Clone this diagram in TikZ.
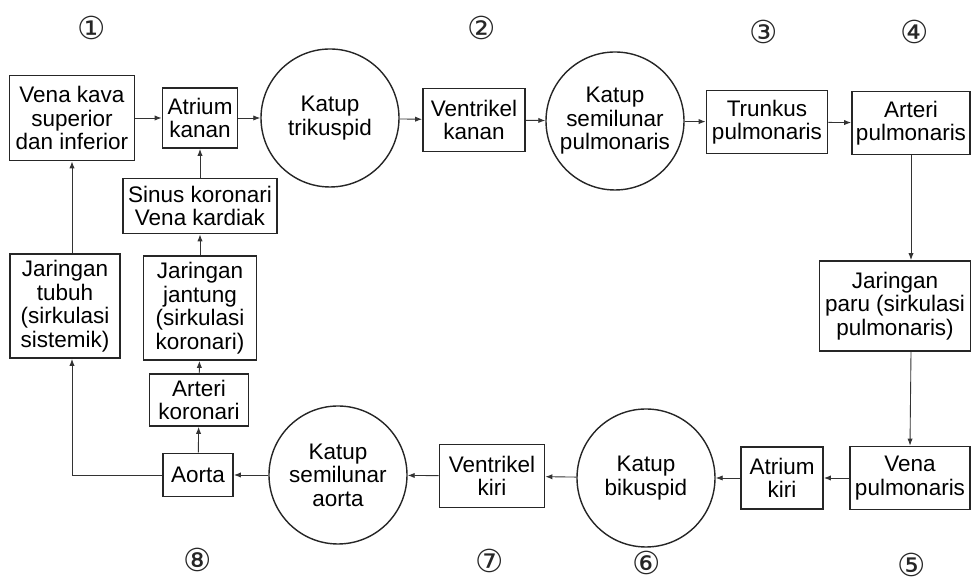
\documentclass[tikz,border=0pt]{standalone}
\usepackage{fontspec}
\setmainfont{Liberation Sans}
\newfontfamily\numfont{DejaVu Sans}
\usetikzlibrary{arrows.meta, shapes, positioning}
\tikzset{
  organ/.style = {draw=black!85, line width=1pt, align=center, inner sep=1.5pt,
    font=\fontsize{12.8}{13.4}\selectfont},
  valve/.style = {draw=black!85, line width=0.8pt, circle, minimum size=2.76cm,
    inner sep=0pt, align=center, font=\fontsize{12.8}{13.4}\selectfont},
  flow/.style = {draw=black!80, line width=0.5pt, -{Latex[length=4pt, width=3pt]}},
  stage/.style = {font=\numfont\fontsize{18}{18}\selectfont, inner sep=0pt, text=black!85}
}

\begin{document}
\begin{tikzpicture}

  \useasboundingbox (0,0) rectangle (19.42,11.70);

  %% Peredaran darah

  % Top row
  \node[organ, minimum width=2.5cm, minimum height=1.7cm] (vk) at (1.44,9.34) {Vena kava\\superior\\dan inferior};
  \node[organ, minimum width=1.5cm, minimum height=1.2cm] (ak) at (4.00,9.34) {Atrium\\kanan};
  \node[valve] (tri) at (6.60,9.34) {Katup\\trikuspid};
  \node[organ, minimum width=2.04cm, minimum height=1.26cm] (vka) at (9.48,9.30) {Ventrikel\\kanan};
  \node[valve] (spul) at (12.30,9.28) {Katup\\semilunar\\pulmonaris};
  \node[organ, minimum width=2.42cm, minimum height=1.26cm] (tp) at (15.34,9.26) {Trunkus\\pulmonaris};
  \node[organ, minimum width=2.36cm, minimum height=1.26cm] (ap) at (18.22,9.24) {Arteri\\pulmonaris};

  % Right column
  \node[organ, minimum width=3.02cm, minimum height=1.8cm] (jp) at (17.90,5.58) {Jaringan\\paru (sirkulasi\\pulmonaris)};

  % Bottom row
  \node[organ, minimum width=2.4cm, minimum height=1.26cm] (vp) at (18.20,2.14) {Vena\\pulmonaris};
  \node[organ, minimum width=1.64cm, minimum height=1.24cm] (aki) at (15.64,2.14) {Atrium\\kiri};
  \node[valve] (bik) at (12.92,2.14) {Katup\\bikuspid};
  \node[organ, minimum width=2.1cm, minimum height=1.26cm] (vki) at (9.84,2.18) {Ventrikel\\kiri};
  \node[valve] (sao) at (6.76,2.20) {Katup\\semilunar\\aorta};
  \node[organ, minimum width=1.4cm, minimum height=0.86cm] (ao) at (3.96,2.20) {Aorta};

  % Left columns
  \node[organ, minimum width=1.98cm, minimum height=1.04cm] (ako) at (3.98,3.70) {Arteri\\koronari};
  \node[organ, minimum width=2.26cm, minimum height=2.08cm] (jj) at (4.00,5.54) {Jaringan\\jantung\\(sirkulasi\\koronari)};
  \node[organ, minimum width=3.08cm, minimum height=1.1cm] (sk) at (4.00,7.58) {Sinus koronari\\Vena kardiak};
  \node[organ, minimum width=2.2cm, minimum height=2.08cm] (jt) at (1.30,5.58) {Jaringan\\tubuh\\(sirkulasi\\sistemik)};

  % Stages
  \node[stage] (n1) at (1.84,11.14) {①};
  \node[stage] (n2) at (9.64,11.14) {②};
  \node[stage] (n3) at (15.28,11.06) {③};
  \node[stage] (n4) at (18.30,11.06) {④};
  \node[stage] (n5) at (18.24,0.40) {⑤};
  \node[stage] (n6) at (12.94,0.44) {⑥};
  \node[stage] (n7) at (9.80,0.48) {⑦};
  \node[stage] (n8) at (3.96,0.50) {⑧};

  % Flow
  \draw[flow] (vk) -- (ak);
  \draw[flow] (ak) -- (tri);
  \draw[flow] (tri) -- (vka);
  \draw[flow] (vka) -- (spul);
  \draw[flow] (spul) -- (tp);
  \draw[flow] (tp) -- (ap);
  \draw[flow] (ap.south) -- (ap.south |- jp.north);
  \draw[flow] (ap.south |- jp.south) -- (vp.north);
  \draw[flow] (vp) -- (aki);
  \draw[flow] (aki) -- (bik);
  \draw[flow] (bik) -- (vki);
  \draw[flow] (vki) -- (sao);
  \draw[flow] (sao) -- (ao);
  \draw[flow] (ao) -- (ako);
  \draw[flow] (ako) -- (jj);
  \draw[flow] (jj) -- (sk);
  \draw[flow] (sk) -- (ak);
  \draw[flow] (ao.west) -| (vk.south |- jt.south);
  \draw[flow] (vk.south |- jt.north) -- (vk.south);

\end{tikzpicture}
\end{document}
